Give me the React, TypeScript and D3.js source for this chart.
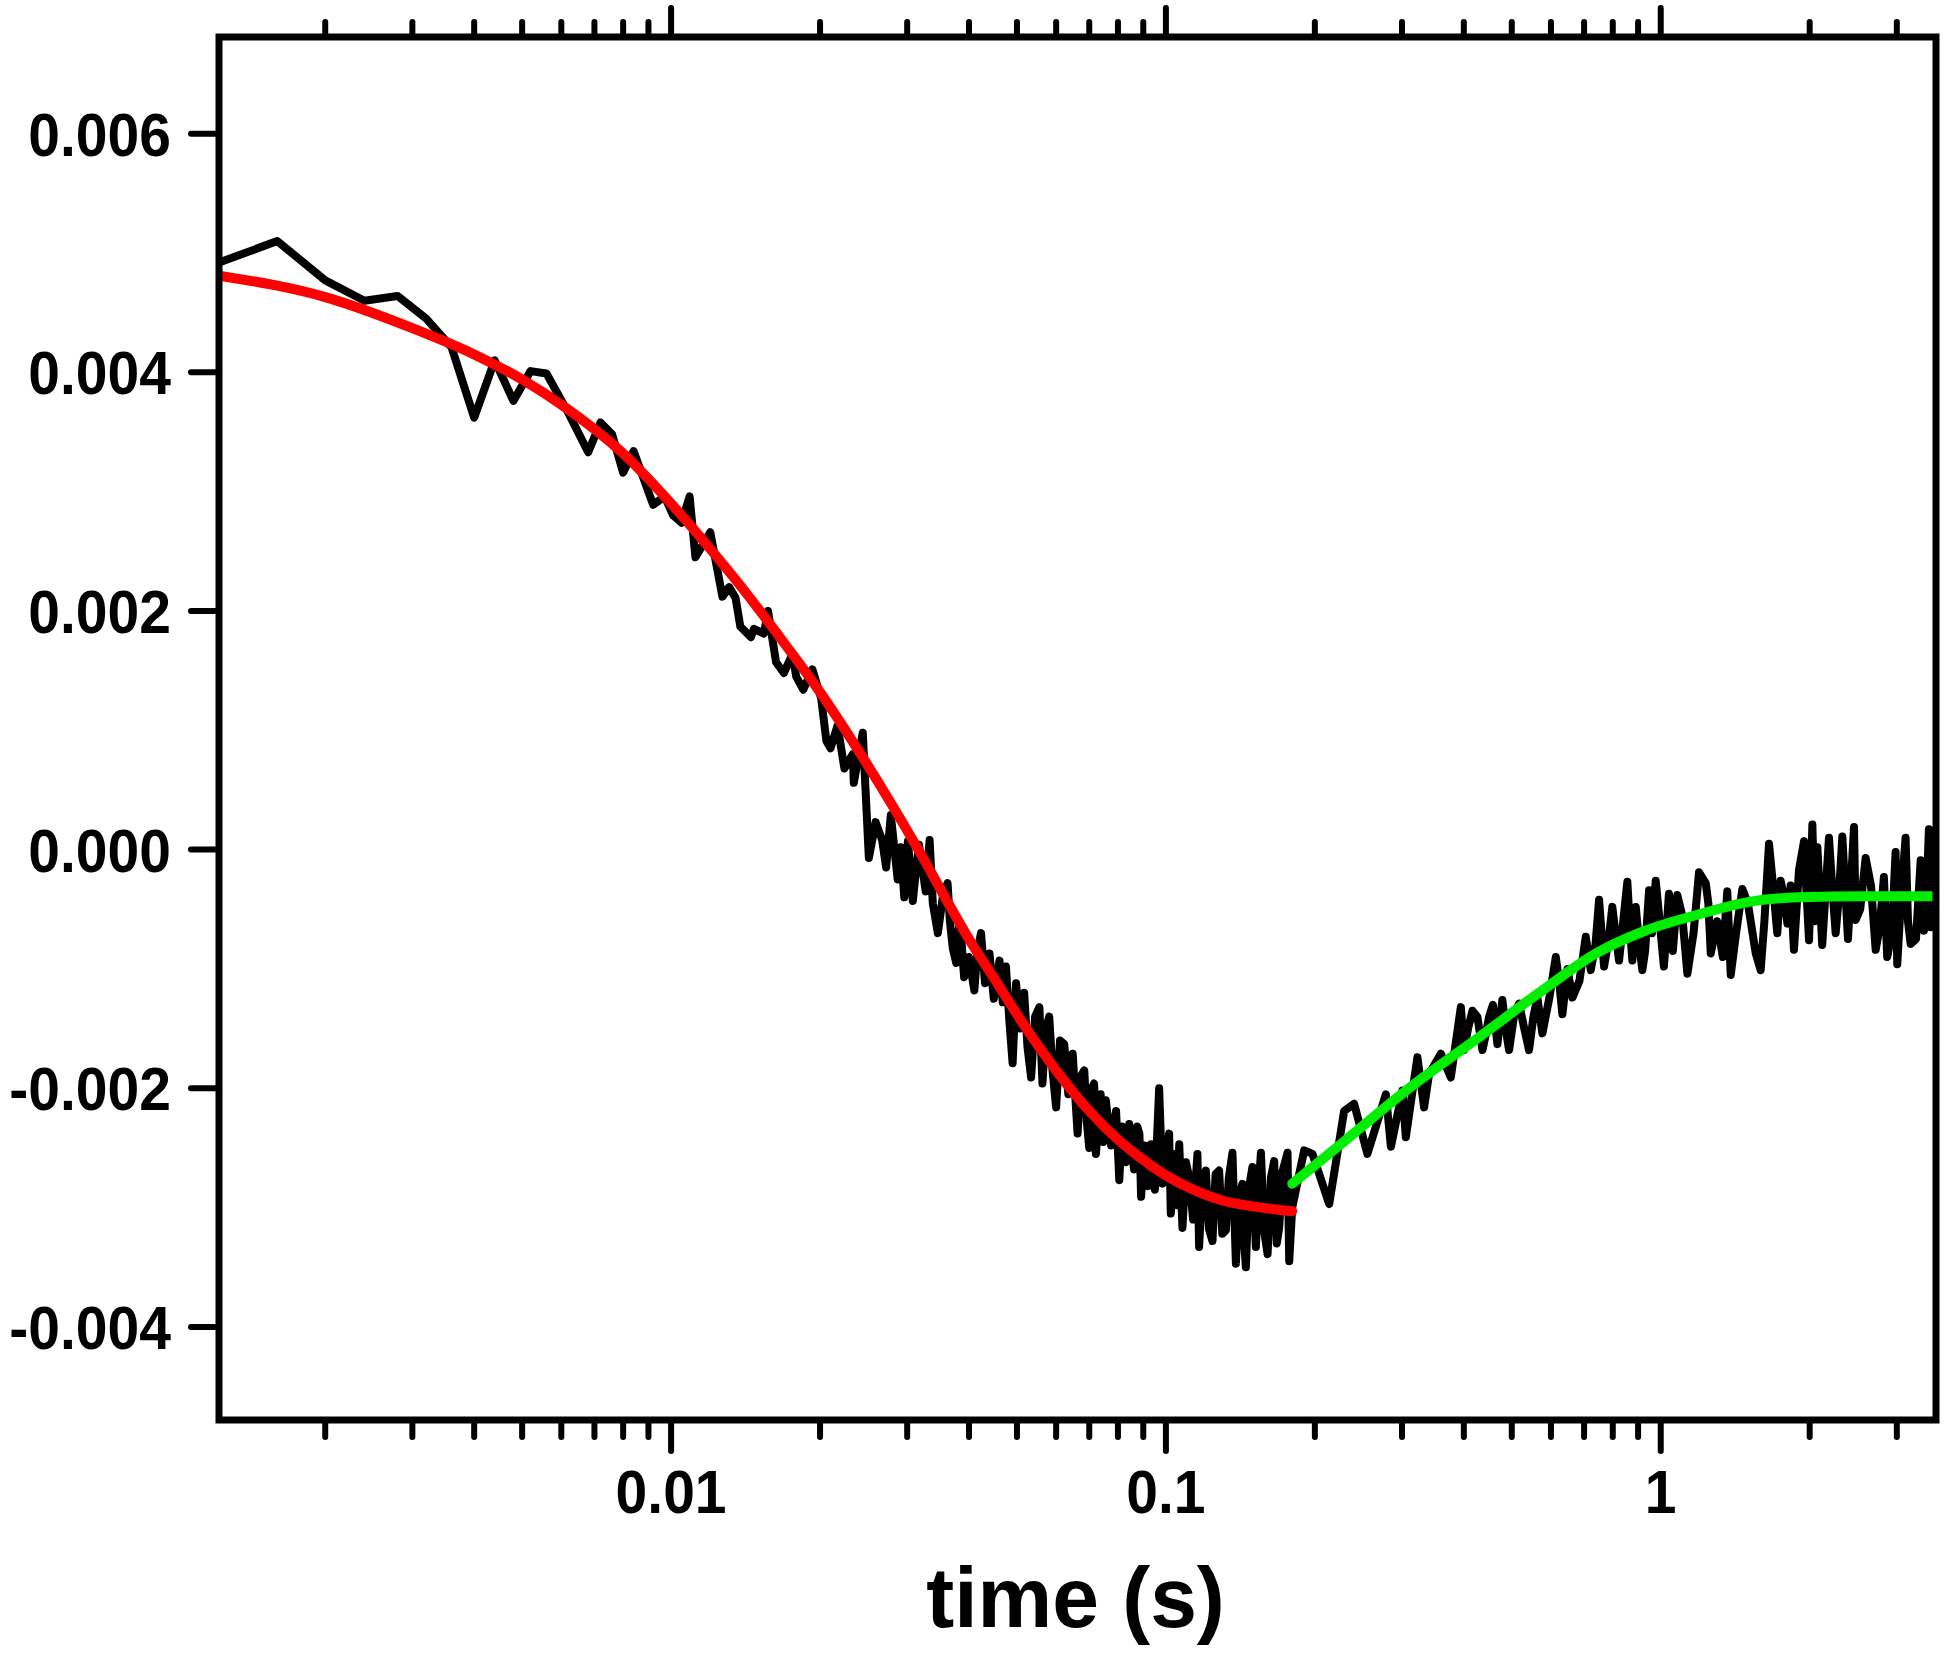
import * as d3 from "d3";
import { useEffect, useRef } from "react";

// measured trace: [time (s), signal]
const signal: [number, number][] = [
  [0.00122, 0.00492], [0.0016, 0.0051], [0.002, 0.00477], [0.0024, 0.0046], [0.0028, 0.00464],
  [0.0032, 0.00445], [0.0036, 0.00421], [0.004, 0.00362], [0.0044, 0.0041], [0.0048, 0.00376],
  [0.0052, 0.00401], [0.0056, 0.00399], [0.0062, 0.00366], [0.0068, 0.00333], [0.0072, 0.00358],
  [0.0076, 0.00348], [0.008, 0.00316], [0.0084, 0.00334], [0.0092, 0.00289], [0.0097, 0.00296],
  [0.0101, 0.0028], [0.0105, 0.00274], [0.0109, 0.00296], [0.0112, 0.00245], [0.012, 0.00266],
  [0.0127, 0.00212], [0.0131, 0.0022], [0.0135, 0.00211], [0.0138, 0.00187], [0.0145, 0.00178],
  [0.0147, 0.00185], [0.0154, 0.00181], [0.0157, 0.002], [0.0163, 0.00157], [0.0169, 0.00148],
  [0.0176, 0.00164], [0.0179, 0.00145], [0.0185, 0.00134], [0.0193, 0.00151], [0.0201, 0.00127],
  [0.0206, 0.00091], [0.021, 0.00085], [0.0217, 0.00104], [0.0224, 0.00068], [0.0233, 0.0008],
  [0.0234, 0.00056], [0.0244, 0.00098], [0.0251, -0.00007], [0.0259, 0.00023], [0.0267, 0.00008],
  [0.0272, -0.00015], [0.0278, 0.00029], [0.0287, -0.00025], [0.0291, 0.00002], [0.0296, -0.0004],
  [0.0301, 0.00007], [0.0308, -0.00043], [0.0312, -0.0002], [0.0317, 0.00004], [0.0327, -0.00035],
  [0.0333, 0.00008], [0.0338, -0.00045], [0.0346, -0.0007], [0.0354, -0.0004], [0.0362, -0.00028],
  [0.0366, -0.0006], [0.0371, -0.00083], [0.0377, -0.00095], [0.0382, -0.00064], [0.0386, -0.00075],
  [0.0391, -0.00107], [0.04, -0.0009], [0.041, -0.00118], [0.0416, -0.00085], [0.0423, -0.0007],
  [0.0431, -0.00112], [0.044, -0.00087], [0.0449, -0.00125], [0.0461, -0.00093], [0.0468, -0.00128],
  [0.0475, -0.00098], [0.0482, -0.0014], [0.049, -0.00179], [0.0498, -0.00112], [0.0507, -0.0015],
  [0.0517, -0.0012], [0.0525, -0.00165], [0.0534, -0.00191], [0.0544, -0.0014], [0.0555, -0.00132],
  [0.0563, -0.00196], [0.0572, -0.0015], [0.0581, -0.0014], [0.059, -0.00185], [0.06, -0.00216],
  [0.0611, -0.0016], [0.0623, -0.00163], [0.0635, -0.00205], [0.0648, -0.00171], [0.0663, -0.00238],
  [0.0673, -0.0019], [0.0684, -0.00185], [0.0692, -0.00228], [0.07, -0.0025], [0.0708, -0.002],
  [0.0716, -0.00196], [0.0722, -0.00255], [0.0738, -0.00205], [0.0747, -0.00245], [0.0756, -0.0021],
  [0.0775, -0.00248], [0.0793, -0.00219], [0.0805, -0.00277], [0.0815, -0.00232], [0.083, -0.00262],
  [0.0843, -0.0023], [0.0862, -0.00268], [0.0875, -0.00232], [0.0884, -0.00238], [0.0891, -0.00291],
  [0.0905, -0.00248], [0.092, -0.00282], [0.0933, -0.00247], [0.095, -0.00285], [0.0969, -0.002],
  [0.0984, -0.0028], [0.1, -0.00262], [0.1015, -0.00238], [0.1023, -0.00305], [0.1042, -0.00255],
  [0.1055, -0.00298], [0.1064, -0.00247], [0.108, -0.00317], [0.1098, -0.00262], [0.1115, -0.00275],
  [0.1135, -0.0031], [0.1158, -0.00255], [0.1167, -0.00333], [0.1185, -0.0028], [0.1204, -0.00269],
  [0.1222, -0.00318], [0.1242, -0.00328], [0.126, -0.00272], [0.1281, -0.00269], [0.13, -0.00322],
  [0.1322, -0.00319], [0.134, -0.00275], [0.1363, -0.00254], [0.1385, -0.00347], [0.1405, -0.0029],
  [0.1428, -0.0028], [0.144, -0.0033], [0.1451, -0.0035], [0.147, -0.00285], [0.1496, -0.00266],
  [0.152, -0.00333], [0.1538, -0.00285], [0.1556, -0.00254], [0.158, -0.0032], [0.1605, -0.00339],
  [0.163, -0.00275], [0.1655, -0.00261], [0.1675, -0.0033], [0.1694, -0.00317], [0.172, -0.0027],
  [0.1761, -0.00254], [0.1775, -0.00345], [0.18, -0.003], [0.1903, -0.00252], [0.1978, -0.00255],
  [0.2138, -0.00297], [0.2292, -0.00219], [0.2401, -0.00213], [0.2554, -0.00255], [0.2783, -0.00205],
  [0.2849, -0.00249], [0.3006, -0.00202], [0.3054, -0.00241], [0.3223, -0.00174], [0.3325, -0.00216],
  [0.3403, -0.00188], [0.3594, -0.00171], [0.3765, -0.00191], [0.3945, -0.00132], [0.4006, -0.00168],
  [0.408, -0.0015], [0.4164, -0.00135], [0.426, -0.0014], [0.4362, -0.00168], [0.443, -0.00155],
  [0.4499, -0.0014], [0.458, -0.0013], [0.4677, -0.00163], [0.4786, -0.00126], [0.486, -0.0015],
  [0.4937, -0.00168], [0.505, -0.0014], [0.5172, -0.00129], [0.53, -0.0015], [0.5418, -0.00168],
  [0.553, -0.0014], [0.5632, -0.00124], [0.5765, -0.00154], [0.595, -0.00125], [0.6137, -0.0009],
  [0.623, -0.0011], [0.6328, -0.00138], [0.648, -0.001], [0.6629, -0.00124], [0.685, -0.0011],
  [0.7055, -0.00073], [0.7221, -0.00101], [0.738, -0.0008], [0.7506, -0.00042], [0.7682, -0.00098],
  [0.785, -0.00075], [0.7983, -0.00048], [0.81, -0.0007], [0.8237, -0.00093], [0.84, -0.0006],
  [0.8561, -0.00027], [0.865, -0.0006], [0.8763, -0.00093], [0.8903, -0.00048], [0.905, -0.0008],
  [0.918, -0.00101], [0.93, -0.00085], [0.9471, -0.00034], [0.96, -0.0007], [0.977, -0.00026],
  [1.015, -0.00098], [1.039, -0.00037], [1.058, -0.00085], [1.08, -0.00038], [1.105, -0.00055],
  [1.132, -0.00104], [1.165, -0.0007], [1.195, -0.00019], [1.233, -0.00028], [1.248, -0.00045],
  [1.262, -0.00087], [1.3, -0.0006], [1.335, -0.0009], [1.363, -0.00035], [1.385, -0.00105],
  [1.42, -0.0007], [1.462, -0.00033], [1.5, -0.00045], [1.556, -0.00087], [1.592, -0.00101],
  [1.62, -0.0006], [1.655, 0.00005], [1.68, -0.00023], [1.72, -0.0007], [1.747, -0.00026],
  [1.775, -0.0004], [1.803, -0.00062], [1.83, -0.0003], [1.859, -0.00084], [1.903, -0.00017],
  [1.948, 0.00007], [1.97, -0.00035], [1.994, -0.00076], [2.025, 0.00021], [2.05, -0.0006],
  [2.073, 0.00002], [2.12, -0.0008], [2.188, 0.0001], [2.22, -0.0003], [2.257, -0.0007],
  [2.29, -0.0004], [2.328, 0.00011], [2.39, -0.00075], [2.458, 0.00019], [2.477, -0.00059],
  [2.53, -0.0005], [2.595, -0.00007], [2.66, -0.0003], [2.719, -0.00084], [2.77, -0.00065],
  [2.825, -0.00023], [2.869, -0.0009], [2.93, -0.0007], [2.983, -0.00002], [3.006, -0.00096],
  [3.06, -0.0004], [3.125, 0.0001], [3.16, -0.0006], [3.199, -0.00079], [3.28, -0.00075],
  [3.352, -0.00009], [3.403, -0.00068], [3.44, -0.00045], [3.483, 0.00017], [3.511, -0.00065],
  [3.55, -0.0003], [3.598, 0.00017],
];

// fast decay fit (red)
const fastFit: [number, number][] = [
  [0.00122, 0.00481], [0.002, 0.00463], [0.003, 0.00437], [0.004, 0.00415], [0.005, 0.00394],
  [0.006, 0.00373], [0.008, 0.00332], [0.01, 0.0029], [0.012, 0.00252], [0.014, 0.00218],
  [0.017, 0.00172], [0.02, 0.00132], [0.024, 0.00082], [0.028, 0.00037], [0.032, -0.00004],
  [0.036, -0.00042], [0.04, -0.00075], [0.045, -0.00108], [0.05, -0.00138], [0.06, -0.00185],
  [0.07, -0.00219], [0.08, -0.00243], [0.09, -0.0026], [0.1, -0.00273], [0.115, -0.00286],
  [0.13, -0.00294], [0.15, -0.00299], [0.18, -0.00303],
];

// slow recovery fit (green)
const slowFit: [number, number][] = [
  [0.18, -0.0028], [0.23, -0.00244], [0.31, -0.002], [0.43, -0.00157], [0.59, -0.00115],
  [0.74, -0.00087], [0.93, -0.00068], [1.2, -0.00054], [1.5, -0.00044], [1.9, -0.0004],
  [2.6, -0.00039], [3.6, -0.00039],
];

const yTicks = [0.006, 0.004, 0.002, 0, -0.002, -0.004];
const yTickLabels = ["0.006", "0.004", "0.002", "0.000", "-0.002", "-0.004"];
const xMajorTicks = [0.01, 0.1, 1];
const xTickLabels = ["0.01", "0.1", "1"];

export default function App() {
  const svgRef = useRef<SVGSVGElement | null>(null);
  const width = 1950;
  const height = 1653;
  const left = 219;
  const right = 1936;
  const top = 37;
  const bottom = 1420;
  const font = "'Liberation Sans', Arial, sans-serif";

  useEffect(() => {
    document.body.style.margin = "0";
    const svg = d3.select(svgRef.current);
    svg.selectAll("*").remove();

    const x = d3.scaleLog().domain([0.00122, 3.6]).range([left, right]);
    const y = d3.scaleLinear().domain([-0.00478, 0.00681]).range([bottom, top]);

    svg
      .append("defs")
      .append("clipPath")
      .attr("id", "plotClip")
      .append("rect")
      .attr("x", left)
      .attr("y", top)
      .attr("width", right - left)
      .attr("height", bottom - top);

    const g = svg.append("g").attr("clip-path", "url(#plotClip)");

    const rawLine = d3
      .line<[number, number]>()
      .x((d) => x(d[0]))
      .y((d) => y(d[1]));
    const fitLine = d3
      .line<[number, number]>()
      .x((d) => x(d[0]))
      .y((d) => y(d[1]))
      .curve(d3.curveMonotoneX);

    g.append("path")
      .attr("d", rawLine(signal))
      .attr("fill", "none")
      .attr("stroke", "#000")
      .attr("stroke-width", 8)
      .attr("stroke-linejoin", "round")
      .attr("stroke-linecap", "round");

    g.append("path")
      .attr("d", fitLine(fastFit))
      .attr("fill", "none")
      .attr("stroke", "#ff0000")
      .attr("stroke-width", 10)
      .attr("stroke-linecap", "round");

    g.append("path")
      .attr("d", fitLine(slowFit))
      .attr("fill", "none")
      .attr("stroke", "#00ee00")
      .attr("stroke-width", 10)
      .attr("stroke-linecap", "round");

    // log ticks on bottom and top, major at each decade
    const xTicks = x.ticks();
    const isMajor = (t: number) => Math.abs(Math.log10(t) - Math.round(Math.log10(t))) < 1e-9;
    const ticks = svg.append("g").attr("stroke", "#000").attr("stroke-width", 6).attr("stroke-linecap", "round");
    ticks
      .selectAll(".bt")
      .data(xTicks)
      .join("line")
      .attr("x1", (d) => x(d))
      .attr("x2", (d) => x(d))
      .attr("y1", bottom)
      .attr("y2", (d) => bottom + (isMajor(d) ? 31 : 17));
    ticks
      .selectAll(".tt")
      .data(xTicks)
      .join("line")
      .attr("x1", (d) => x(d))
      .attr("x2", (d) => x(d))
      .attr("y1", top)
      .attr("y2", (d) => top - (isMajor(d) ? 29 : 15));
    ticks
      .selectAll(".lt")
      .data(yTicks)
      .join("line")
      .attr("x1", left)
      .attr("x2", left - 28)
      .attr("y1", (d) => y(d))
      .attr("y2", (d) => y(d));

    // frame
    svg
      .append("rect")
      .attr("x", left)
      .attr("y", top)
      .attr("width", right - left)
      .attr("height", bottom - top)
      .attr("fill", "none")
      .attr("stroke", "#000")
      .attr("stroke-width", 7);

    svg
      .append("g")
      .selectAll("text")
      .data(yTicks)
      .join("text")
      .attr("transform", (d) => `translate(171,${y(d) + 22}) scale(0.92,1)`)
      .attr("text-anchor", "end")
      .attr("font-family", font)
      .attr("font-weight", "bold")
      .attr("font-size", 62)
      .text((_, i) => yTickLabels[i]);

    svg
      .append("g")
      .selectAll("text")
      .data(xMajorTicks)
      .join("text")
      .attr("transform", (d) => `translate(${x(d)},1513) scale(0.92,1)`)
      .attr("text-anchor", "middle")
      .attr("font-family", font)
      .attr("font-weight", "bold")
      .attr("font-size", 62)
      .text((_, i) => xTickLabels[i]);

    svg
      .append("text")
      .attr("transform", `translate(${(left + right) / 2 - 2},1627) scale(1,1.02)`)
      .attr("text-anchor", "middle")
      .attr("font-family", font)
      .attr("font-weight", "bold")
      .attr("font-size", 84)
      .text("time (s)");
  }, []);

  return (
    <div>
      <svg
        ref={svgRef}
        width={width}
        height={height}
        style={{ position: "absolute", left: 0, top: 0, background: "#fff" }}
      ></svg>
    </div>
  );
}
